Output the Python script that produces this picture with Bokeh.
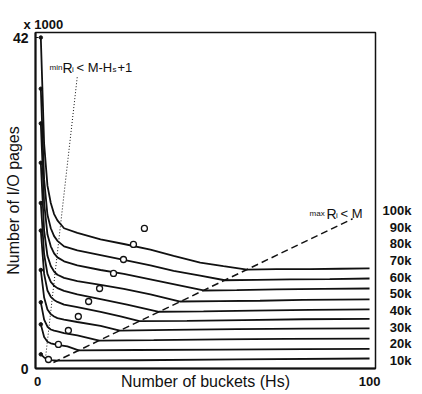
import math
from bokeh.plotting import figure
from bokeh.models import Range1d, FixedTicker, Label, LinearAxis
from bokeh.embed import file_html
from bokeh.resources import INLINE

# ---------------- data (x = number of buckets Hs, y = I/O pages x 1000) -------------
hs_100k = [1, 2, 3, 4, 5, 6, 8, 12, 19, 26, 34, 41, 49, 56, 63.1, 72, 82, 91, 100]
io_100k = [42.0, 28.5, 23.2, 21.0, 19.6, 18.8, 17.8, 17.2, 16.4, 15.8, 15.1, 14.3, 13.45, 13.0, 12.56, 12.6, 12.62, 12.66, 12.7]

hs_90k = [1, 2, 3, 4, 5, 6, 8, 12, 19, 26, 34, 41, 49, 56.4, 66, 76, 88, 100]
io_90k = [35.5, 24.0, 19.5, 17.8, 16.8, 16.2, 15.5, 15.0, 14.4, 13.8, 13.1, 12.4, 11.8, 11.2, 11.25, 11.3, 11.35, 11.42]

hs_80k = [1, 2, 3, 4, 5, 6, 8, 12, 19, 26, 34, 42, 50, 60, 72, 86, 100]
io_80k = [31.1, 21.0, 17.0, 15.5, 14.6, 14.1, 13.6, 13.1, 12.5, 12.0, 11.3, 10.6, 9.9, 9.95, 10.05, 10.1, 10.15]

hs_70k = [1, 2, 3, 4, 5, 6, 8, 12, 19, 26, 34, 43, 55, 67, 80, 100]
io_70k = [26.1, 17.5, 14.3, 13.0, 12.3, 11.9, 11.5, 11.1, 10.6, 10.1, 9.4, 8.5, 8.55, 8.6, 8.7, 8.76]

hs_60k = [1, 2, 3, 4, 5, 6, 8, 12, 19, 27, 36.6, 50, 65, 82, 100]
io_60k = [21.0, 14.5, 12.0, 11.0, 10.5, 10.2, 9.85, 9.4, 8.8, 8.1, 7.2, 7.25, 7.35, 7.45, 7.5]

hs_50k = [1, 2, 3, 4, 5, 6, 8, 12, 19, 25, 30.7, 45, 62, 80, 100]
io_50k = [17.5, 12.0, 9.9, 9.1, 8.7, 8.45, 8.1, 7.8, 7.2, 6.6, 6.0, 6.05, 6.15, 6.25, 6.3]

hs_40k = [1, 2, 3, 4, 5, 6, 8, 12, 19, 24.8, 40, 60, 80, 100]
io_40k = [12.5, 9.0, 7.5, 6.9, 6.6, 6.4, 6.2, 5.9, 5.4, 4.8, 4.9, 5.0, 5.05, 5.1]

hs_30k = [1, 2, 3, 4, 5, 6, 8, 12, 18.6, 35, 55, 75, 100]
io_30k = [8.4, 6.2, 5.3, 4.95, 4.8, 4.7, 4.5, 4.2, 3.55, 3.6, 3.7, 3.75, 3.8]

hs_20k = [1, 2, 3, 4, 6, 9, 12.4, 30, 55, 80, 100]
io_20k = [5.6, 4.0, 3.4, 3.2, 3.0, 2.8, 2.3, 2.35, 2.4, 2.45, 2.5]

hs_10k = [1, 2, 3, 4, 6, 30, 60, 100]
io_10k = [1.8, 1.4, 1.15, 1.05, 1.0, 1.05, 1.15, 1.27]

# optimum points (open circles), 10k .. 100k
hs_opt = [3.3, 6.3, 9.3, 12.3, 15.4, 18.7, 22.9, 25.9, 28.9, 32.2]
io_opt = [1.14, 3.05, 4.82, 6.6, 8.5, 10.15, 12.06, 13.83, 15.74, 17.77]

# constraint lines
hs_minR = [2.4, 12.0]
io_minR = [1.27, 37.1]
hs_maxR = [4.8, 94.9]
io_maxR = [0.76, 19.0]

curve_labels = ["100k", "90k", "80k", "70k", "60k", "50k", "40k", "30k", "20k", "10k"]
x_ticks = [0, 100]
y_ticks = [0, 42]

curves = [(hs_100k, io_100k), (hs_90k, io_90k), (hs_80k, io_80k), (hs_70k, io_70k),
          (hs_60k, io_60k), (hs_50k, io_50k), (hs_40k, io_40k), (hs_30k, io_30k),
          (hs_20k, io_20k), (hs_10k, io_10k)]

# ---------------- figure -------------
FONT = "Liberation Sans"
INK = "#111111"

def X(px):
    return (px - 37) / 3.32

def Y(py):
    return (368 - py) / 7.88

p = figure(width=422, height=394, x_range=Range1d(-0.6, 101.8), y_range=Range1d(0, 42.64),
           output_backend="svg", toolbar_location=None,
           min_border_left=35, min_border_right=47, min_border_top=32, min_border_bottom=26)
p.xgrid.visible = False
p.ygrid.visible = False
p.outline_line_color = INK
p.outline_line_width = 1.5
p.background_fill_color = "white"

p.title.text = "x 1000"
p.title.align = "left"
p.title.offset = -12
p.title.standoff = 2
p.title.text_font = FONT
p.title.text_font_size = "13px"
p.title.text_font_style = "bold"
p.title.text_color = INK

xa = p.xaxis[0]
xa.ticker = FixedTicker(ticks=x_ticks)
xa.major_label_text_font = FONT
xa.major_label_text_font_style = "bold"
xa.major_label_text_font_size = "13px"
xa.major_label_text_color = INK
xa.major_label_standoff = 8
xa.major_tick_out = 0
xa.major_tick_in = 0
xa.minor_tick_line_color = None
xa.axis_line_width = 2
xa.axis_line_color = INK
xa.axis_label = "Number of buckets (Hs)"
xa.axis_label_text_font = FONT
xa.axis_label_text_font_style = "normal"
xa.axis_label_text_font_size = "16px"
xa.axis_label_text_color = INK
xa.axis_label_standoff = -16

ya = p.yaxis[0]
ya.ticker = FixedTicker(ticks=y_ticks)
ya.major_label_text_font = FONT
ya.major_label_text_font_style = "bold"
ya.major_label_text_font_size = "14px"
ya.major_label_text_color = INK
ya.major_label_standoff = 7
ya.major_tick_out = 0
ya.major_tick_in = 3
ya.major_tick_line_color = INK
ya.minor_tick_line_color = None
ya.axis_line_width = 2
ya.axis_line_color = INK
ya.axis_label = "Number of I/O pages"
ya.axis_label_text_font = FONT
ya.axis_label_text_font_style = "normal"
ya.axis_label_text_font_size = "16px"
ya.axis_label_text_color = INK
ya.axis_label_standoff = -12

# right-hand curve labels as a right axis
label_pos = [Y(210 + i * 16.67) for i in range(len(curve_labels))]
ra = LinearAxis(ticker=FixedTicker(ticks=label_pos),
                major_label_overrides={v: (n if len(n) == 4 else "\u2007" + n)
                                       for v, n in zip(label_pos, curve_labels)})
ra.major_label_text_font = FONT
ra.major_label_text_font_style = "bold"
ra.major_label_text_font_size = "13px"
ra.major_label_text_color = INK
ra.major_label_standoff = 7
ra.major_tick_in = 0
ra.major_tick_out = 0
ra.major_tick_line_color = None
ra.minor_tick_line_color = None
ra.axis_line_color = None
p.add_layout(ra, "right")

for hs, io in curves:
    p.line(hs, io, line_width=1.8, line_color=INK)
p.scatter([c[0][0] for c in curves], [c[1][0] for c in curves], size=3.5,
          fill_color=INK, line_color=INK)

p.line(hs_minR, io_minR, line_width=1, line_color=INK, line_dash="1 2")
p.line(hs_maxR, io_maxR, line_width=1.5, line_color=INK, line_dash="7 4")

p.scatter(hs_opt, io_opt, marker="circle", size=6, fill_color="white",
          line_color=INK, line_width=1.3)

# ---------------- in-plot annotations -------------
def lab(px, py, text, size, align="left", baseline="alphabetic", style="normal"):
    p.add_layout(Label(x=X(px), y=Y(py), text=text, text_font=FONT,
                       text_font_size=f"{size}px", text_font_style=style,
                       text_color=INK, text_align=align, text_baseline=baseline))

# "min Ri < M-Hs+1"
lab(49, 67, "min", 8)
lab(62, 67, "R", 14)
lab(71.5, 69, "i", 8)
lab(76, 67, "< M-H", 13)
lab(112, 69, "s", 8)
lab(117, 67, "+1", 13)

# "max Ri < M"
lab(309, 213, "max", 8)
lab(326, 213, "R", 14)
lab(335.5, 215, "i", 8)
lab(340, 213, "< M", 13)

open("out.html", "w").write(file_html(p, INLINE))
